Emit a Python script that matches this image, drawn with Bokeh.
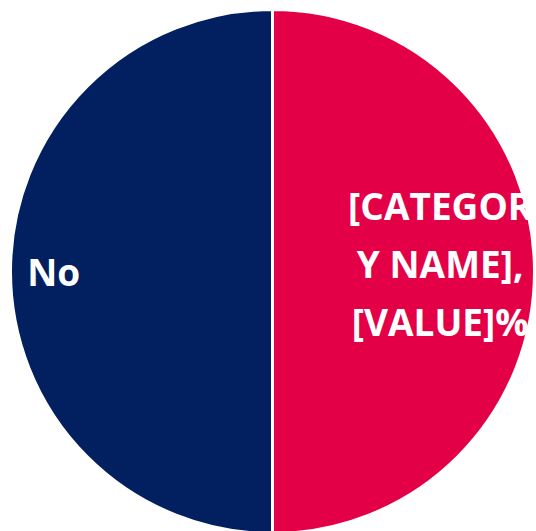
import numpy as np
from bokeh.plotting import figure
from bokeh.models import Range1d, ColumnDataSource
from bokeh.core.properties import value
from bokeh.embed import file_html
from bokeh.resources import INLINE

# ---- data ----
categories = ["[CATEGORY NAME]", "No"]
values = [50, 50]
colors = ["#E40046", "#022060"]
label_lines = [["[CATEGOR", "Y NAME],", "[VALUE]%"], ["No"]]

# ---- geometry (pixels) ----
W, H = 536, 531
cx, cy, r = 272, -271, 262
label_frac = [0.64, 0.835]
label_dy = [8, 0]
line_step = 58

vals = np.array(values, dtype=float)
fr = vals / vals.sum()
ends = np.pi / 2 - 2 * np.pi * np.cumsum(fr)
starts = np.concatenate([[np.pi / 2], ends[:-1]])

p = figure(width=W, height=H, output_backend="svg", toolbar_location=None,
           x_range=Range1d(0, W), y_range=Range1d(-H, 0),
           min_border=0, outline_line_color=None)
p.axis.visible = False
p.grid.visible = False
p.background_fill_color = "white"
p.border_fill_color = "white"

src = ColumnDataSource(dict(cat=categories, start=starts, end=ends, color=colors))
p.wedge(x=cx, y=cy, radius=r, start_angle="start", end_angle="end",
        direction="clock", fill_color="color", line_color="white", line_width=3,
        source=src)

tx, ty, tt = [], [], []
for i, lines in enumerate(label_lines):
    mid = (starts[i] + ends[i]) / 2
    lx = cx + r * label_frac[i] * np.cos(mid)
    ly = cy + r * label_frac[i] * np.sin(mid) + label_dy[i]
    n = len(lines)
    for j, t in enumerate(lines):
        tx.append(lx)
        ty.append(ly + (n - 1) / 2 * line_step - j * line_step)
        tt.append(t)

p.text(x=tx, y=ty, text=tt, text_color="white", text_font=value("Open Sans"),
       text_font_style="bold", text_font_size="37px", text_align="center",
       text_baseline="middle")

open("out.html", "w").write(file_html(p, INLINE))
